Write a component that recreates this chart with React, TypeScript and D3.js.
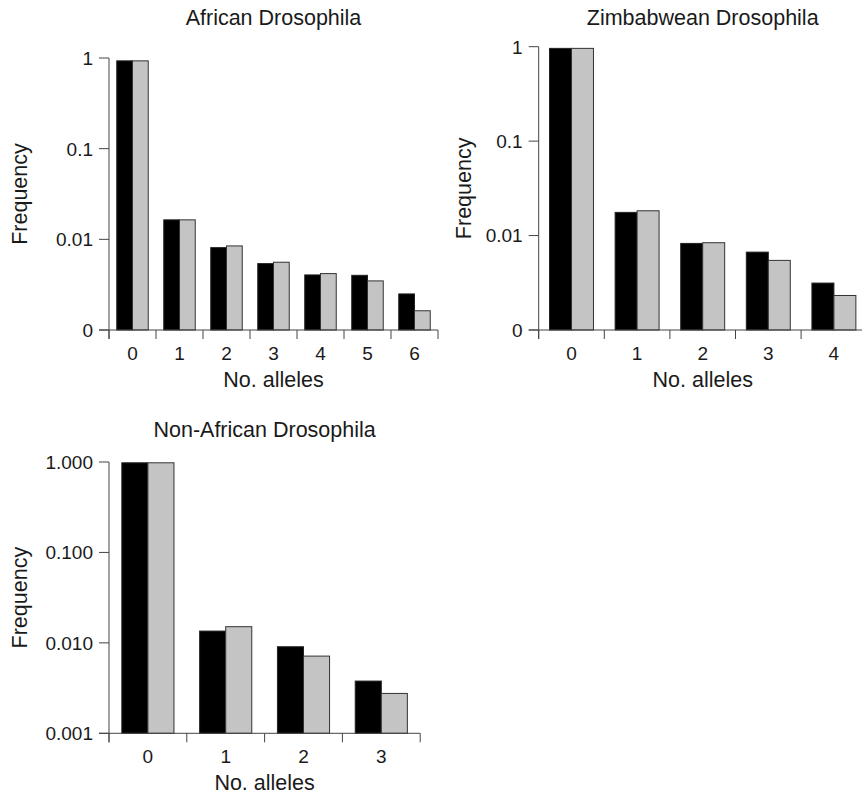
import React from "react";
import * as d3 from "d3";

// categories (number of alleles)
const africanAlleles = ["0", "1", "2", "3", "4", "5", "6"];
const zimbabweAlleles = ["0", "1", "2", "3", "4"];
const nonAfricanAlleles = ["0", "1", "2", "3"];

// frequencies, black series and grey series
const africanBlack = [0.93, 0.0164, 0.0081, 0.0054, 0.00405, 0.00401, 0.0025];
const africanGrey = [0.93, 0.0164, 0.00846, 0.00559, 0.00419, 0.00348, 0.00163];
const zimbabweBlack = [0.96, 0.0176, 0.00826, 0.00668, 0.00314];
const zimbabweGrey = [0.96, 0.0183, 0.0084, 0.00546, 0.00232];
const nonAfricanBlack = [0.98, 0.0135, 0.00906, 0.00378];
const nonAfricanGrey = [0.98, 0.0151, 0.00714, 0.00276];

// y ticks and their labels
const yTicks = [1, 0.1, 0.01, 0.001];
const shortLabels = ["1", "0.1", "0.01", "0"];
const longLabels = ["1.000", "0.100", "0.010", "0.001"];

const FONT = "'Liberation Sans', Arial, Helvetica, sans-serif";
const AXIS = "#444";

type PanelProps = {
  title: string;
  cats: string[];
  black: number[];
  grey: number[];
  tickLabels: string[];
  left: number;
  right: number;
  top: number;
  bottom: number;
  titleY: number;
  labelX: number;
};

function Panel(p: PanelProps) {
  const x = d3
    .scaleBand()
    .domain(p.cats)
    .range([p.left, p.right])
    .paddingInner(0.33)
    .paddingOuter(0.165);
  const sub = d3.scaleBand().domain(["b", "g"]).range([0, x.bandwidth()]);
  const y = d3.scaleLog().domain([0.001, 1]).range([p.bottom, p.top]);
  const step = x.step();
  const boundaries = d3.range(p.cats.length + 1).map(i => p.left + i * step);
  const mid = (p.left + p.right) / 2;

  return (
    <g fontFamily={FONT} fill="#1a1a1a">
      <text x={mid} y={p.titleY} textAnchor="middle" fontSize={21.5}>
        {p.title}
      </text>
      {p.cats.map((c, i) => (
        <g key={c}>
          <rect
            x={x(c)! + sub("b")!}
            y={y(p.black[i])}
            width={sub.bandwidth()}
            height={p.bottom - y(p.black[i])}
            fill="#000"
            stroke="#222"
            strokeWidth={1}
          />
          <rect
            x={x(c)! + sub("g")!}
            y={y(p.grey[i])}
            width={sub.bandwidth()}
            height={p.bottom - y(p.grey[i])}
            fill="#c4c4c4"
            stroke="#333"
            strokeWidth={1}
          />
        </g>
      ))}
      {/* y axis */}
      <line x1={p.left} x2={p.left} y1={p.top} y2={p.bottom + 9} stroke={AXIS} />
      {yTicks.map((t, i) => (
        <g key={t}>
          <line x1={p.left - 10} x2={p.left} y1={y(t)} y2={y(t)} stroke={AXIS} />
          <text x={p.left - 16} y={y(t)} dy="0.36em" textAnchor="end" fontSize={19}>
            {p.tickLabels[i]}
          </text>
        </g>
      ))}
      {/* x axis */}
      <line x1={p.left - 10} x2={p.right} y1={p.bottom} y2={p.bottom} stroke={AXIS} />
      {boundaries.map((b, i) => (
        <line key={i} x1={b} x2={b} y1={p.bottom} y2={p.bottom + 9} stroke={AXIS} />
      ))}
      {p.cats.map(c => (
        <text
          key={c}
          x={x(c)! + x.bandwidth() / 2}
          y={p.bottom + 30}
          textAnchor="middle"
          fontSize={19}
        >
          {c}
        </text>
      ))}
      <text x={mid} y={p.bottom + 57} textAnchor="middle" fontSize={21.5}>
        No. alleles
      </text>
      <text
        transform={`translate(${p.labelX},${(p.top + p.bottom) / 2}) rotate(-90)`}
        textAnchor="middle"
        fontSize={21.5}
      >
        Frequency
      </text>
    </g>
  );
}

export default function App() {
  return (
    <svg
      width={862}
      height={796}
      style={{ position: "absolute", left: 0, top: 0, background: "#fff" }}
    >
      <Panel
        title="African Drosophila"
        cats={africanAlleles}
        black={africanBlack}
        grey={africanGrey}
        tickLabels={shortLabels}
        left={109}
        right={438}
        top={58}
        bottom={330}
        titleY={25}
        labelX={27}
      />
      <Panel
        title="Zimbabwean Drosophila"
        cats={zimbabweAlleles}
        black={zimbabweBlack}
        grey={zimbabweGrey}
        tickLabels={shortLabels}
        left={538.7}
        right={866.7}
        top={46.7}
        bottom={330}
        titleY={25}
        labelX={471}
      />
      <Panel
        title="Non-African Drosophila"
        cats={nonAfricanAlleles}
        black={nonAfricanBlack}
        grey={nonAfricanGrey}
        tickLabels={longLabels}
        left={109}
        right={420.2}
        top={462}
        bottom={733.3}
        titleY={437}
        labelX={27}
      />
    </svg>
  );
}
